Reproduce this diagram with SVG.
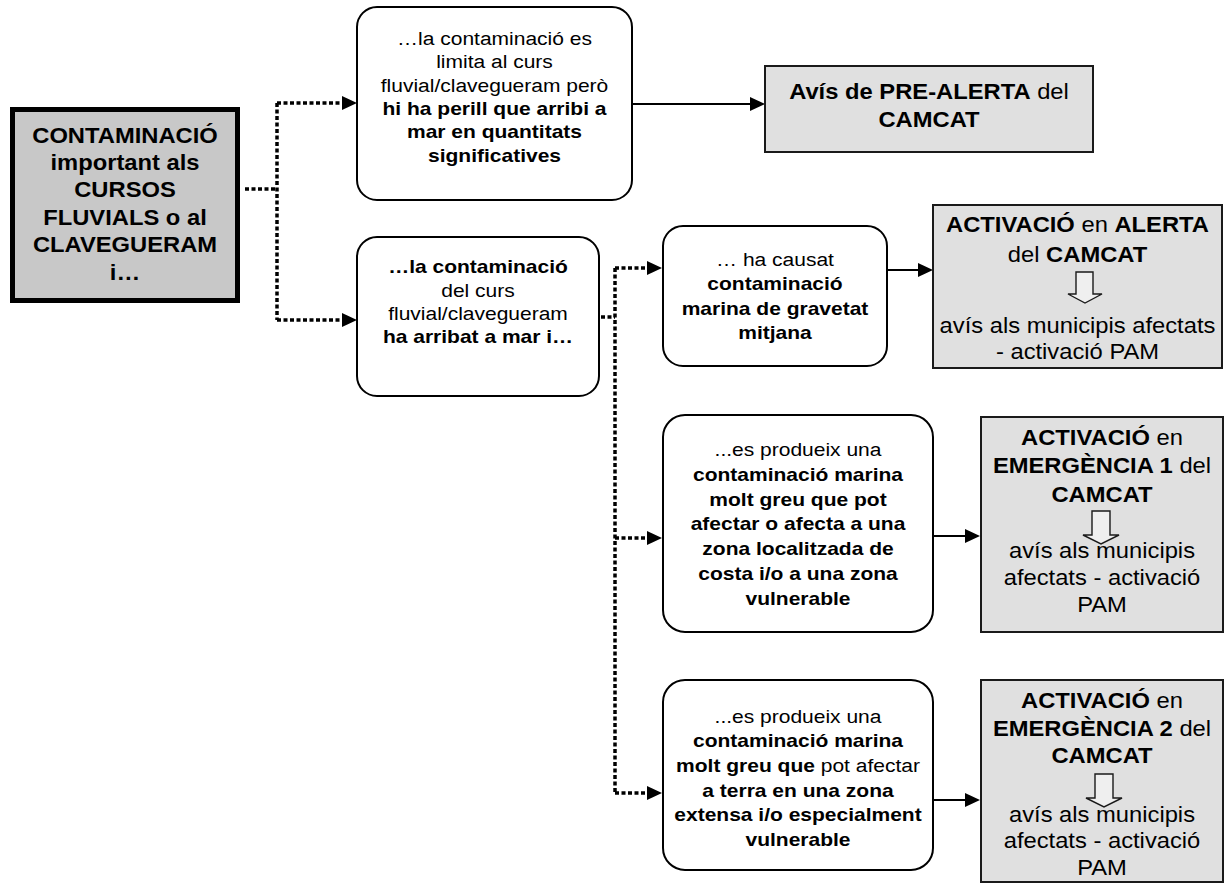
<svg xmlns="http://www.w3.org/2000/svg" width="1231" height="885" viewBox="0 0 1231 885">
<defs>
<style>
.bg{fill:#ffffff}
.main{fill:#c8c8c8;stroke:#000;stroke-width:5}
.rnd{fill:#ffffff;stroke:#000;stroke-width:2}
.gray{fill:#e0e0e0;stroke:#1a1a1a;stroke-width:2}
.darr{fill:#efefef;stroke:#1a1a1a;stroke-width:1.4}
text{font-family:"Liberation Sans",Arial,Helvetica,sans-serif;fill:#000;text-anchor:middle}
.t21{font-size:21.6px}
.t19{font-size:19.1px}
.b{font-weight:bold}
.dot{fill:none;stroke:#000;stroke-width:3.5;stroke-dasharray:4 2.5}
.sol{fill:none;stroke:#000;stroke-width:2}
</style>
<marker id="ah" markerUnits="userSpaceOnUse" viewBox="0 0 15 14" markerWidth="15" markerHeight="14" refX="0" refY="7" orient="auto">
<path d="M0,0 L15,7 L0,14 z" fill="#000"/>
</marker>
</defs>
<rect class="bg" x="0" y="0" width="1231" height="885"/>

<g id="connectors">
<path class="dot" d="M245,189 H277"/>
<path class="dot" d="M277,103 V320"/>
<path class="dot" d="M277,103 H342" marker-end="url(#ah)"/>
<path class="dot" d="M277,320 H342" marker-end="url(#ah)"/>
<path class="dot" d="M601,317 H615"/>
<path class="dot" d="M615,268 V793"/>
<path class="dot" d="M615,268 H647" marker-end="url(#ah)"/>
<path class="dot" d="M615,538 H647" marker-end="url(#ah)"/>
<path class="dot" d="M615,793 H647" marker-end="url(#ah)"/>
<path class="sol" d="M632,104 H750" marker-end="url(#ah)"/>
<path class="sol" d="M887,270 H918" marker-end="url(#ah)"/>
<path class="sol" d="M933,536 H965" marker-end="url(#ah)"/>
<path class="sol" d="M933,800 H965" marker-end="url(#ah)"/>
</g>

<g id="node-main">
<rect class="main" x="12.5" y="109.5" width="225" height="191"/>
<g transform="translate(125,0) scale(1.1,1)">
<text class="t21 b" x="0" y="143">CONTAMINACIÓ</text>
<text class="t21 b" x="0" y="170.5">important als</text>
<text class="t21 b" x="0" y="197">CURSOS</text>
<text class="t21 b" x="0" y="225">FLUVIALS o al</text>
<text class="t21 b" x="0" y="252.5">CLAVEGUERAM</text>
<text class="t21 b" x="0" y="280">i…</text>
</g>
</g>

<g id="node-a">
<rect class="rnd" x="357" y="7" width="275" height="193" rx="20"/>
<g transform="translate(494.5,0) scale(1.1,1)">
<text class="t19" x="0" y="45">…la contaminació es</text>
<text class="t19" x="0" y="68.3">limita al curs</text>
<text class="t19" x="0" y="91.6">fluvial/clavegueram però</text>
<text class="t19 b" x="0" y="115">hi ha perill que arribi a</text>
<text class="t19 b" x="0" y="138.3">mar en quantitats</text>
<text class="t19 b" x="0" y="161.6">significatives</text>
</g>
</g>

<g id="node-prealerta">
<rect class="gray" x="765" y="66" width="328" height="86"/>
<g transform="translate(929,0) scale(1.1,1)">
<text class="t21" x="0" y="99"><tspan class="b">Avís de PRE-ALERTA</tspan> del</text>
<text class="t21 b" x="0" y="127.3">CAMCAT</text>
</g>
</g>

<g id="node-b">
<rect class="rnd" x="357" y="237" width="242" height="159" rx="20"/>
<g transform="translate(478,0) scale(1.1,1)">
<text class="t19 b" x="0" y="273.3">…la contaminació</text>
<text class="t19" x="0" y="296.7">del curs</text>
<text class="t19" x="0" y="320">fluvial/clavegueram</text>
<text class="t19 b" x="0" y="343.3">ha arribat a mar i…</text>
</g>
</g>

<g id="node-c">
<rect class="rnd" x="663" y="226" width="224" height="140" rx="20"/>
<g transform="translate(775,0) scale(1.1,1)">
<text class="t19" x="0" y="266">… ha causat</text>
<text class="t19 b" x="0" y="290.5">contaminació</text>
<text class="t19 b" x="0" y="315">marina de gravetat</text>
<text class="t19 b" x="0" y="339.5">mitjana</text>
</g>
</g>

<g id="node-alerta">
<rect class="gray" x="933" y="205" width="289" height="163"/>
<path class="darr" d="M1076,272 H1093 V294 H1102 L1085,303 L1068,294 H1076 Z"/>
<g transform="translate(1077.5,0) scale(1.1,1)">
<text class="t21" x="0" y="231.7"><tspan class="b">ACTIVACIÓ</tspan> en <tspan class="b">ALERTA</tspan></text>
<text class="t21" x="0" y="261.7">del <tspan class="b">CAMCAT</tspan></text>
<text class="t21" x="0" y="333.3">avís als municipis afectats</text>
<text class="t21" x="0" y="359">- activació PAM</text>
</g>
</g>

<g id="node-e1">
<rect class="rnd" x="663" y="415" width="270" height="217" rx="22"/>
<g transform="translate(798,0) scale(1.1,1)">
<text class="t19" x="0" y="456">...es produeix una</text>
<text class="t19 b" x="0" y="481">contaminació marina</text>
<text class="t19 b" x="0" y="505.7">molt greu que pot</text>
<text class="t19 b" x="0" y="530.4">afectar o afecta a una</text>
<text class="t19 b" x="0" y="555.2">zona localitzada de</text>
<text class="t19 b" x="0" y="580">costa i/o a una zona</text>
<text class="t19 b" x="0" y="604.7">vulnerable</text>
</g>
</g>

<g id="node-em1">
<rect class="gray" x="981" y="417" width="242" height="215"/>
<path class="darr" d="M1092,511 H1110 V535 H1119 L1101,544 L1083,535 H1092 Z"/>
<g transform="translate(1102,0) scale(1.1,1)">
<text class="t21" x="0" y="445"><tspan class="b">ACTIVACIÓ</tspan> en</text>
<text class="t21" x="0" y="473.3"><tspan class="b">EMERGÈNCIA 1</tspan> del</text>
<text class="t21 b" x="0" y="501.7">CAMCAT</text>
<text class="t21" x="0" y="558.3">avís als municipis</text>
<text class="t21" x="0" y="585">afectats - activació</text>
<text class="t21" x="0" y="611.7">PAM</text>
</g>
</g>

<g id="node-e2">
<rect class="rnd" x="663" y="680" width="270" height="190" rx="22"/>
<g transform="translate(798,0) scale(1.1,1)">
<text class="t19" x="0" y="722.7">...es produeix una</text>
<text class="t19 b" x="0" y="747.3">contaminació marina</text>
<text class="t19" x="0" y="772"><tspan class="b">molt greu que</tspan> pot afectar</text>
<text class="t19 b" x="0" y="796.7">a terra en una zona</text>
<text class="t19 b" x="0" y="821.3">extensa i/o especialment</text>
<text class="t19 b" x="0" y="846">vulnerable</text>
</g>
</g>

<g id="node-em2">
<rect class="gray" x="981" y="680" width="242" height="202"/>
<path class="darr" d="M1095,774 H1113 V798 H1122 L1104,807 L1086,798 H1095 Z"/>
<g transform="translate(1102,0) scale(1.1,1)">
<text class="t21" x="0" y="708.3"><tspan class="b">ACTIVACIÓ</tspan> en</text>
<text class="t21" x="0" y="736"><tspan class="b">EMERGÈNCIA 2</tspan> del</text>
<text class="t21 b" x="0" y="763.3">CAMCAT</text>
<text class="t21" x="0" y="821.7">avís als municipis</text>
<text class="t21" x="0" y="848.3">afectats - activació</text>
<text class="t21" x="0" y="875">PAM</text>
</g>
</g>
</svg>
